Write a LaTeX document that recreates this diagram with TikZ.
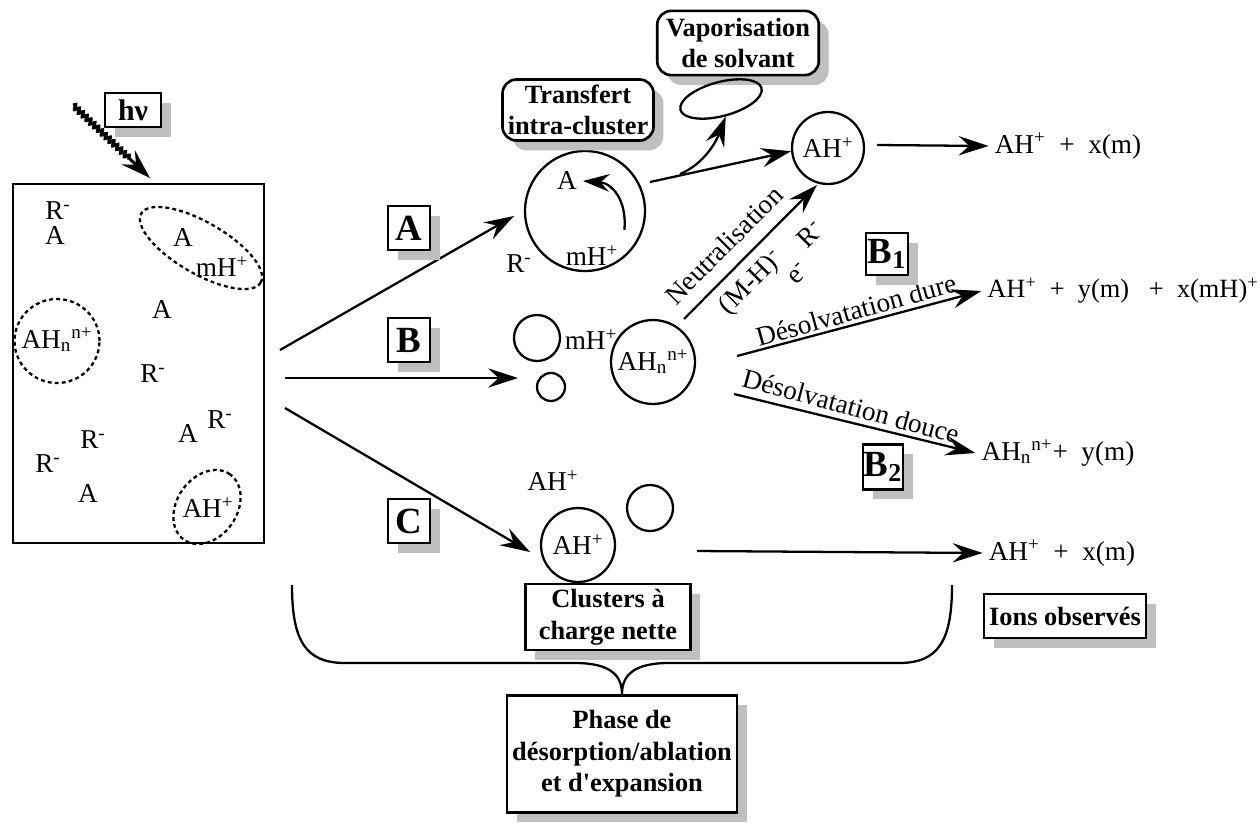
\documentclass[tikz,border=0pt]{standalone}
\usepackage{fontspec}
\setmainfont{Liberation Serif}
\usetikzlibrary{arrows.meta,shapes.geometric,shadows,decorations.pathmorphing,positioning}

\tikzset{
  fleche/.style={line width=1.3pt, -{Stealth[length=17pt,width=11pt,inset=6pt]}},
  etiquette/.style={draw, line width=1.5pt, fill=white, font=\fontsize{15}{18}\selectfont\bfseries,
    align=center, inner sep=3pt,
    drop shadow={shadow xshift=5.6pt, shadow yshift=-5.6pt, fill=black!25, opacity=1}},
  lettre/.style={etiquette, font=\fontsize{21}{22}\selectfont\bfseries, inner sep=0pt,
    minimum width=0.84cm, minimum height=0.88cm},
  bulle/.style={circle, draw, line width=1.3pt, inner sep=0pt},
  pointille/.style={ellipse, draw, line width=1.3pt, dash pattern=on 2.2pt off 1.8pt, inner sep=0pt},
}

\begin{document}
\begin{tikzpicture}[x=0.02cm, y=-0.02cm, font=\fontsize{15.5}{17}\selectfont]
    \useasboundingbox (0,0) rectangle (1260,825);

    % Matrice irradiee
    \node[draw, line width=1.5pt, minimum width=5.02cm, minimum height=7.18cm, inner sep=0pt] (matrice) at (138.5,363.5) {};
    \node[etiquette, font=\fontsize{17}{18}\selectfont\bfseries, inner sep=0pt,
          minimum width=1.12cm, minimum height=0.68cm] (hv) at (133,110) {hν};
    \coordinate (rayon) at (73,105);
    \coordinate (impact) at (150,178);
    \draw[line width=1.7pt, decorate, decoration={snake, amplitude=1.4pt, segment length=3pt, post length=15pt},
          -{Stealth[length=17pt,width=11pt,inset=6pt]}] (rayon) -- (impact);

    % Contenu de la matrice
    \node (m1) at (58,211) {R\textsuperscript{-}};
    \node (m2) at (55,236) {A};
    \node[pointille, minimum width=2.76cm, minimum height=1.03cm, rotate=-30] (ell1) at (201,248) {};
    \node (m3) at (183,238) {A};
    \node (m4) at (222,267) {mH\textsuperscript{+}};
    \node (m5) at (162,310) {A};
    \node[pointille, minimum width=1.7cm, minimum height=1.68cm] (ell2) at (57,341) {};
    \node (m6) at (57,340) {AH\textsubscript{n}\textsuperscript{n+}};
    \node (m7) at (153,374) {R\textsuperscript{-}};
    \node (m8) at (220,420) {R\textsuperscript{-}};
    \node (m9) at (188,434) {A};
    \node (m10) at (93,440) {R\textsuperscript{-}};
    \node (m11) at (48,464) {R\textsuperscript{-}};
    \node (m12) at (88,494) {A};
    \node[pointille, minimum width=1.6cm, minimum height=1.2cm, rotate=55] (ell3) at (207,507) {};
    \node (m13) at (208,508) {AH\textsuperscript{+}};

    % Trois voies A, B, C
    \coordinate (depA) at (280,350);
    \coordinate (depB) at (285,378);
    \coordinate (depC) at (285,408);
    \coordinate (finA) at (514,216);
    \coordinate (finB) at (518,378);
    \coordinate (finC) at (530,552);
    \draw[fleche] (depA) -- (finA);
    \draw[fleche] (depB) -- (finB);
    \draw[fleche] (depC) -- (finC);
    \node[lettre] (voieA) at (409,228) {A};
    \node[lettre] (voieB) at (409,340) {B};
    \node[lettre] (voieC) at (409,521) {C};

    % Voie A : transfert intra-cluster
    \node[bulle, minimum size=2.4cm] (cA) at (585,211) {};
    \node (cAa) at (567,181) {A};
    \node (cAm) at (592,256) {mH\textsuperscript{+}};
    \node (cAr) at (519,264) {R\textsuperscript{-}};
    \draw[fleche, -{Stealth[length=15pt,width=10pt,inset=5pt]}] (cAm.north east) ++(0,-10) .. controls (627,200) and (612,183) .. (cAa.east);
    \node[etiquette, rounded corners=8pt] (transfert) at (578,110) {Transfert\\intra-cluster};
    \node[etiquette, rounded corners=8pt, inner xsep=5pt, inner ysep=4pt] (vapo) at (738,43) {Vaporisation\\de solvant};
    \node[ellipse, draw, line width=1.3pt, minimum width=1.68cm, minimum height=0.68cm, rotate=15] (solvant) at (721,99) {};
    \node[bulle, minimum size=1.44cm] (cT) at (828,148) {AH\textsuperscript{+}};
    \coordinate (sortieA) at (650,182);
    \coordinate (branche) at (680,174);
    \draw[fleche] (sortieA) -- (cT.185);
    \draw[fleche] (branche) .. controls (704,164) and (716,142) .. (solvant.south);
    \node (prodA) at (1068,146) {AH\textsuperscript{+} \ + \ x(m)};
    \draw[fleche] (cT.east) ++(12,-3) -- (prodA.west);

    % Voie B : desolvatation
    \node[bulle, minimum size=0.92cm] (pB1) at (537,338) {};
    \node[bulle, minimum size=0.56cm] (pB2) at (551,387) {};
    \node (mB) at (591,340) {mH\textsuperscript{+}};
    \node[bulle, minimum size=1.68cm] (cB) at (653,362) {AH\textsubscript{n}\textsuperscript{n+}};
    \coordinate (neutA) at (684,319);
    \coordinate (neutB) at (817,185);
    \draw[fleche] (neutA) -- (neutB);
    \node[rotate=45] (neut) at (724,245) {Neutralisation};
    \node[rotate=45] (mh) at (752,283) {(M-H)\textsuperscript{-}};
    \node[rotate=45] (el) at (798,274) {e\textsuperscript{-}};
    \node[rotate=45] (rn) at (810,234) {R\textsuperscript{-}};

    \node[font=\fontsize{15}{17}\selectfont] (prodB1) at (1123,291) {AH\textsuperscript{+} \ + \ y(m) \ \ + \ x(mH)\textsuperscript{+}};
    \coordinate (dureA) at (737,356);
    \draw[fleche] (dureA) -- (prodB1.west);
    \node[rotate=15.6] (dure) at (856,310) {Désolvatation dure};
    \node[lettre, minimum width=0.84cm, minimum height=0.84cm] (voieB1) at (887,254) {B\textsubscript{1}};

    \node (prodB2) at (1058,453) {AH\textsubscript{n}\textsuperscript{n+}+ \ y(m)};
    \coordinate (douceA) at (734,394);
    \draw[fleche] (douceA) -- (prodB2.west);
    \node[rotate=-15] (douce) at (851,406) {Désolvatation douce};
    \node[lettre, minimum width=0.8cm, minimum height=0.9cm] (voieB2) at (883,467) {B\textsubscript{2}};

    % Voie C : clusters a charge nette
    \node (lC) at (553,481) {AH\textsuperscript{+}};
    \node[bulle, minimum size=1.48cm] (cC) at (578,545) {AH\textsuperscript{+}};
    \node[bulle, minimum size=0.92cm] (pC) at (650,508) {};
    \node (prodC) at (1062,553) {AH\textsuperscript{+} \ + \ x(m)};
    \coordinate (sortieC) at (697,551);
    \draw[fleche] (sortieC) -- (prodC.west);
    \node[etiquette, minimum width=3.3cm, minimum height=1.3cm] (clusters) at (608,617) {Clusters à\\charge nette};
    \node[etiquette, minimum width=3.18cm, minimum height=0.88cm] (ions) at (1065,616) {Ions observés};

    % Accolade et phase
    \node[etiquette, minimum width=4.3cm, minimum height=2.34cm] (phase) at (622,754) {Phase de\\désorption/ablation\\et d\textquotesingle expansion};
    \coordinate (accG) at (292,585);
    \coordinate (accD) at (952,585);
    \draw[line width=1.3pt] (accG) .. controls (292,640) and (305,663) .. (345,663)
        -- (575,663) .. controls (610,663) and (622,675) .. (phase.north)
        .. controls (622,675) and (634,663) .. (669,663)
        -- (899,663) .. controls (939,663) and (952,640) .. (accD);
\end{tikzpicture}
\end{document}
